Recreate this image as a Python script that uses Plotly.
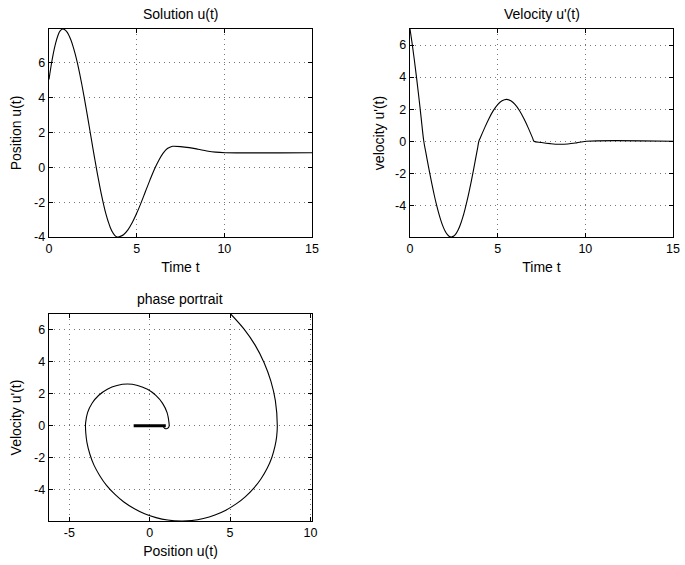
import plotly.graph_objects as go

# time samples
t = [0.0, 0.125, 0.25, 0.375, 0.5, 0.625, 0.786, 0.9, 1.0, 1.125, 1.25, 1.375, 1.5, 1.625,
     1.75, 1.875, 2.0, 2.125, 2.25, 2.357, 2.5, 2.625, 2.75, 2.875, 3.0, 3.125, 3.25,
     3.375, 3.5, 3.625, 3.75, 3.85, 3.928, 4.0, 4.25, 4.5, 4.75, 5.0, 5.25, 5.5, 5.75,
     6.0, 6.25, 6.5, 6.75, 7.0, 7.07, 7.5, 8.0, 8.5, 9.0, 9.5, 10.05, 15.0]
# position u(t)
u = [5.04, 5.86, 6.56, 7.12, 7.54, 7.82, 7.94, 7.90, 7.80, 7.60, 7.31, 6.93, 6.48, 5.96,
     5.38, 4.74, 4.06, 3.34, 2.61, 1.97, 1.12, 0.39, -0.32, -0.98, -1.61, -2.18, -2.69,
     -3.11, -3.47, -3.73, -3.91, -3.98, -4.00, -3.99, -3.87, -3.59, -3.17, -2.64, -2.04, -1.39, -0.75,
     -0.14, 0.38, 0.80, 1.08, 1.20, 1.21, 1.19, 1.13, 1.04, 0.94, 0.87, 0.84, 0.84]
# velocity u'(t)
v = [7.0, 6.07, 5.05, 3.95, 2.79, 1.57, 0.0, -0.68, -1.27, -1.99, -2.67, -3.32, -3.91, -4.44,
     -4.90, -5.29, -5.59, -5.81, -5.94, -5.97, -5.91, -5.76, -5.52, -5.19, -4.78, -4.29, -3.74,
     -3.13, -2.47, -1.77, -1.04, -0.46, 0.0, 0.19, 0.82, 1.41, 1.91, 2.29, 2.52, 2.61, 2.52,
     2.28, 1.90, 1.40, 0.82, 0.18, 0.0, -0.08, -0.15, -0.19, -0.17, -0.10, 0.0, 0.0]
# sticking segment in the phase plane
stick_u = [-1.0, 1.0]
stick_v = [0.0, 0.0]

time_ticks = [0, 5, 10, 15]
y_ticks = [-4, -2, 0, 2, 4, 6]
phase_x_ticks = [-5, 0, 5, 10]

titles = ["Solution u(t)", "Velocity u'(t)", "phase portrait"]
xtitles = ["Time t", "Time t", "Position u(t)"]
ytitles = ["Position u(t)", "velocity u'(t)", "Velocity u'(t)"]

W, H = 685, 565
FONT = "Liberation Sans, Arial, Helvetica, sans-serif"
FS_TICK = 12.5
FS_LAB = 14

fig = go.Figure()
line = dict(color="black", width=1.1, shape="spline", smoothing=1.0)
fig.add_trace(go.Scatter(x=t, y=u, mode="lines", line=line, xaxis="x", yaxis="y"))
fig.add_trace(go.Scatter(x=t, y=v, mode="lines", line=line, xaxis="x2", yaxis="y2"))
fig.add_trace(go.Scatter(x=stick_u, y=stick_v, mode="lines",
                         line=dict(color="black", width=3), xaxis="x3", yaxis="y3"))
fig.add_trace(go.Scatter(x=u[:-1], y=v[:-1], mode="lines", line=line, xaxis="x3", yaxis="y3"))

# pixel boxes of the three axes
boxes = [(49, 312, 29, 237), (410, 673, 29, 237), (49, 312, 314, 521)]
def dom(b):
    x0, x1, y0, y1 = b
    return [x0 / W, x1 / W], [1 - y1 / H, 1 - y0 / H]

axis_common = dict(
    showline=True, linecolor="black", linewidth=1.3, mirror="ticks",
    ticks="inside", ticklen=4, tickcolor="black", tickwidth=1,
    showgrid=True, gridcolor="#777777", griddash="1px,4px", gridwidth=1,
    zeroline=False, automargin=False,
    tickfont=dict(family=FONT, size=FS_TICK, color="black"),
    title_font=dict(family=FONT, size=FS_LAB, color="black"),
)

xr = [[0, 15], [0, 15], [-6.27, 10.1]]
yr = [[min(u), max(u)], [min(v), max(v)], [min(v), max(v)]]
xt = [time_ticks, time_ticks, phase_x_ticks]
ystand = [9, 7, 9]

layout = dict(width=W, height=H, margin=dict(l=0, r=0, t=0, b=0, autoexpand=False),
              paper_bgcolor="white", plot_bgcolor="white", showlegend=False,
              hovermode=False,
              font=dict(family=FONT, size=FS_TICK, color="black"))
anns = []
for i, b in enumerate(boxes):
    dx, dy = dom(b)
    sfx = "" if i == 0 else str(i + 1)
    layout["xaxis" + sfx] = dict(axis_common, domain=dx, range=xr[i], tickvals=xt[i],
                                 ticktext=[str(k) for k in xt[i]],
                                 anchor="y" + sfx, title=dict(text=xtitles[i], standoff=7))
    layout["yaxis" + sfx] = dict(axis_common, domain=dy, range=yr[i], tickvals=y_ticks,
                                 ticktext=[str(k) for k in y_ticks],
                                 anchor="x" + sfx, title=dict(text=ytitles[i], standoff=ystand[i]))
    anns.append(dict(text=titles[i], xref="paper", yref="paper",
                     x=(dx[0] + dx[1]) / 2, y=dy[1], xanchor="center", yanchor="bottom",
                     yshift=5, showarrow=False, font=dict(family=FONT, size=FS_LAB, color="black")))
layout["annotations"] = anns
fig.update_layout(**layout)
fig.write_html("out.html", config={"displayModeBar": False, "staticPlot": True},
               post_script="document.body.style.margin='0';document.body.style.overflow='hidden';")
